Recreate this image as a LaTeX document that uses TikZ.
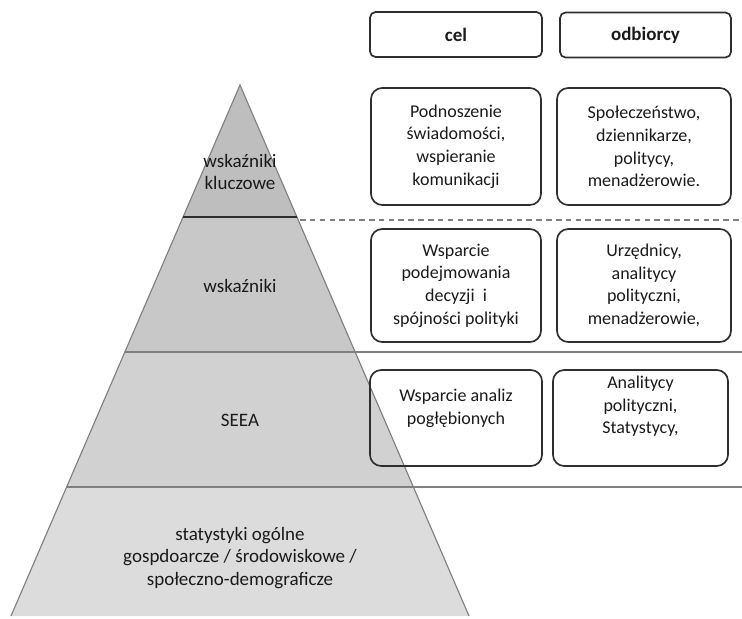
\documentclass[tikz,border=0pt]{standalone}
\usepackage{fontspec}
\setmainfont{Carlito}
\usetikzlibrary{positioning}

\definecolor{tierA}{HTML}{BEBEBE}
\definecolor{tierB}{HTML}{C8C8C8}
\definecolor{tierC}{HTML}{D1D1D1}
\definecolor{tierD}{HTML}{DCDCDC}
\definecolor{edgegray}{HTML}{7F7F7F}
\definecolor{boxline}{HTML}{2E2E2E}
\definecolor{ink}{HTML}{1A1A1A}

\tikzset{
  box/.style={draw=boxline, line width=1.2pt, rounded corners=8pt, align=center, text=ink,
    font=\fontsize{12.8}{16.1}\selectfont},
  headbox/.style={box, rounded corners=4pt, minimum height=1.125cm, font=\bfseries\fontsize{13.5}{16}\selectfont},
  txt/.style={align=center, text=ink, font=\fontsize{12.8}{16.1}\selectfont},
  level/.style={align=center, text=ink, font=\fontsize{13.5}{16}\selectfont},
  edge/.style={draw=edgegray, line width=0.8pt},
  rule/.style={draw=edgegray, line width=1pt}
}

\begin{document}
\begin{tikzpicture}[x=0.025cm, y=-0.025cm]
  \useasboundingbox (0,0) rectangle (742,618);

  \coordinate (top) at (240,85);
  \coordinate (l1) at (183.1,217);
  \coordinate (r1) at (296.9,217);
  \coordinate (l2) at (124.8,352);
  \coordinate (r2) at (355.2,352);
  \coordinate (l3) at (66.6,487);
  \coordinate (r3) at (413.4,487);
  \coordinate (l4) at (11,616);
  \coordinate (r4) at (469,616);

  \fill[tierA] (top) -- (r1) -- (l1) -- cycle;
  \fill[tierB] (l1) -- (r1) -- (r2) -- (l2) -- cycle;
  \fill[tierC] (l2) -- (r2) -- (r3) -- (l3) -- cycle;
  \fill[tierD] (l3) -- (r3) -- (r4) -- (l4) -- cycle;
  \draw[edge] (l4) -- (top) -- (r4);
  \draw[draw=boxline, line width=1.4pt] (l1) -- (r1);
  \draw[edge] (l2) -- (r2);
  \draw[edge] (l3) -- (r3);

  \coordinate (d0) at (300,220);
  \coordinate (d1) at (742,220);
  \coordinate (e2) at (742,352);
  \coordinate (e3) at (742,487);
  \draw[rule, dash pattern=on 4pt off 3pt] (d0) -- (d1);
  \draw[rule] (r2) -- (e2);
  \draw[rule] (r3) -- (e3);

  \node[level] (kluczowe) at (240,172) {wskaźniki\\kluczowe};
  \node[level] (wskazniki) at (240,286) {wskaźniki};
  \node[level] (seea) at (240,420) {SEEA};
  \node[level] (statystyki) at (240,558) {statystyki ogólne\\
    gospdoarcze / środowiskowe /\\społeczno-demograficze};

  \node[headbox, minimum width=4.3cm] (cel) at (456,34.5) {cel};
  \node[headbox, minimum width=4.275cm] (odbiorcy) at (645.5,35) {odbiorcy};

  \begin{scope}[every node/.append style={minimum width=4.25cm}]
    \node[box, minimum height=2.925cm] (cel1) at (456,146.5)
      {Podnoszenie\\świadomości,\\wspieranie\\komunikacji};
    \node[box, minimum height=2.825cm] (cel2) at (456,285.5)
      {Wsparcie\\podejmowania\\decyzji~ i\\spójności polityki};
    \node[box, minimum height=2.4cm, minimum width=4.3cm] (cel3) at (456,418) {};
  \end{scope}
  \begin{scope}[every node/.append style={minimum width=4.35cm}]
    \node[box, minimum height=2.925cm] (odb1) at (644,146.5)
      {Społeczeństwo,\\dziennikarze,\\politycy,\\menadżerowie.};
    \node[box, minimum height=2.825cm] (odb2) at (644,285.5)
      {Urzędnicy,\\analitycy\\polityczni,\\menadżerowie,};
    \node[box, minimum height=2.4cm, minimum width=4.375cm] (odb3) at (640.5,418) {};
  \end{scope}
  \node[txt, below=0.37cm of cel3.north] (cel3txt) {Wsparcie analiz\\pogłębionych};
  \node[txt, below=0.05cm of odb3.north] (odb3txt) {Analitycy\\polityczni,\\Statystycy,};
\end{tikzpicture}
\end{document}
